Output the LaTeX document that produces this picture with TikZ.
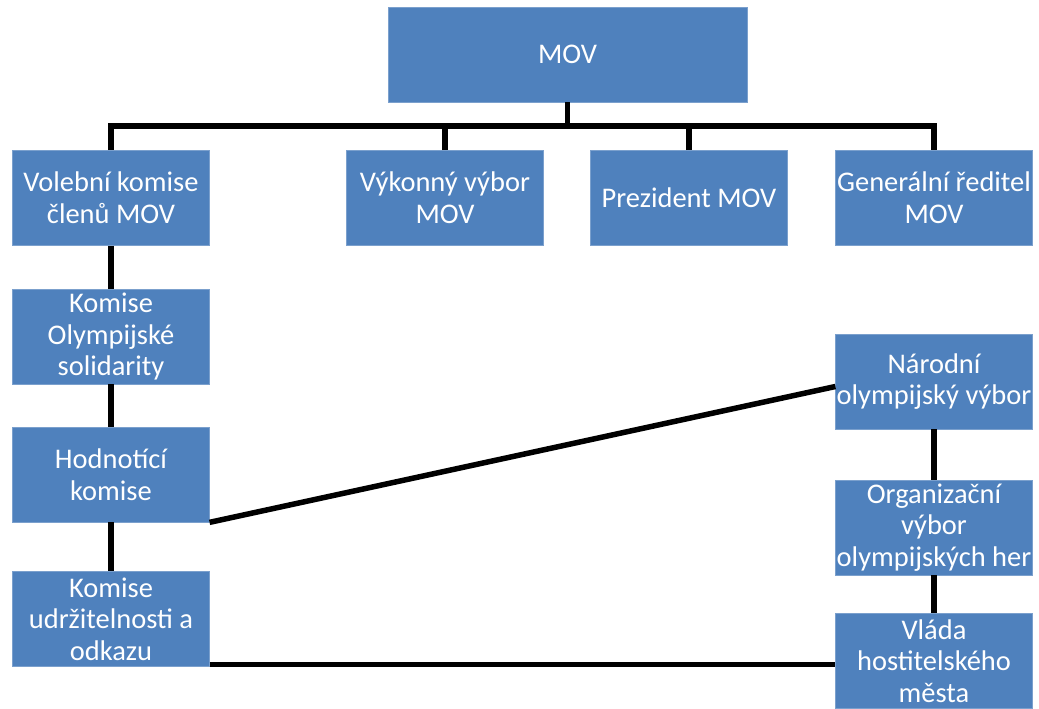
\documentclass[tikz,border=0pt]{standalone}
\usepackage{fontspec}
\setmainfont{Carlito}
\definecolor{movblue}{HTML}{4F81BD}
\begin{document}
\begin{tikzpicture}[x=0.02cm,y=-0.02cm,
  block/.style={rectangle,fill=movblue,draw=movblue!75!white,line width=0.4pt,text=white,align=center,
    minimum width=3.93cm,minimum height=1.9cm,inner sep=0pt,font=\fontsize{16.2}{18}\selectfont},
  link/.style={line width=0.11cm,line join=miter}]
\def\xLeft{111}
\def\xRight{934}
\def\yBar{126}
\useasboundingbox (0,0) rectangle (1039,708);
  %\draw[help lines,step=50] (0,0) grid (1039,708);
\path
(567.5,54.5) node [block,minimum width=7.18cm] (mov) {MOV}
(\xLeft,198) node [block] (volebni) {Volební komise\\členů MOV}
(445,198) node [block] (vykonny) {Výkonný výbor\\MOV}
(689,198) node [block] (prezident) {Prezident MOV}
(\xRight,198) node [block] (reditel) {Generální ředitel\\MOV}
(\xLeft,336.5) node [block] (solidarita) {Komise\\Olympijské\\solidarity}
(\xLeft,474.5) node [block] (hodnotici) {Hodnotící\\komise}
(\xLeft,619) node [block] (udrzitelnost) {Komise\\udržitelnosti a\\odkazu}
(\xRight,381.5) node [block] (narodni) {Národní\\olympijský výbor}
(\xRight,527.5) node [block] (organizacni) {Organizační\\výbor\\olympijských her}
(\xRight,661) node [block] (vlada) {Vláda\\hostitelského\\města}
;
\coordinate (bar) at (0,\yBar);
% MOV and the row under it
\draw[link] (volebni.north) -- (volebni.north |- bar) -- (reditel.north |- bar) -- (reditel.north);
\draw[link] (mov.south) -- (mov.south |- bar);
\draw[link] (vykonny.north) -- (vykonny.north |- bar);
\draw[link] (prezident.north) -- (prezident.north |- bar);
% left column
\draw[link] (volebni) -- (solidarita);
\draw[link] (solidarita) -- (hodnotici);
\draw[link] (hodnotici) -- (udrzitelnost);
% right column
\draw[link] (narodni) -- (organizacni);
\draw[link] (organizacni) -- (vlada);
% across
\draw[link] (hodnotici.south east) -- ([yshift=-0.1cm]narodni.west);
\draw[link] ([yshift=0.05cm]udrzitelnost.south east) -- ([yshift=0.05cm]udrzitelnost.south east -| vlada.west);
\end{tikzpicture}
\end{document}
